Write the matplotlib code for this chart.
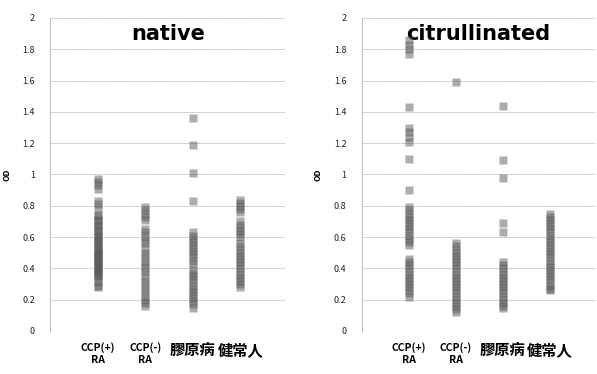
import matplotlib
matplotlib.use("Agg")
import matplotlib.pyplot as plt
from matplotlib.ticker import FuncFormatter

plt.rcParams["font.family"] = ["Noto Sans CJK JP", "DejaVu Sans"]

groups = ["CCP(+)\nRA", "CCP(-)\nRA", "膠原病", "健常人"]
y_ticks = [0, 0.2, 0.4, 0.6, 0.8, 1.0, 1.2, 1.4, 1.6, 1.8, 2.0]

# native antigen, OD per subject
native_ccp_pos = [0.97, 0.95, 0.93, 0.91, 0.83, 0.81, 0.78, 0.74, 0.73, 0.71, 0.70,
                  0.68, 0.67, 0.65, 0.64, 0.62, 0.61, 0.60, 0.58, 0.57, 0.56, 0.55,
                  0.53, 0.52, 0.51, 0.50, 0.49, 0.48, 0.47, 0.46, 0.45, 0.44, 0.43,
                  0.42, 0.41, 0.40, 0.39, 0.38, 0.37, 0.36, 0.35, 0.33, 0.31, 0.29, 0.28]
native_ccp_neg = [0.79, 0.77, 0.75, 0.73, 0.71, 0.65, 0.63, 0.61, 0.58, 0.56, 0.53,
                  0.50, 0.48, 0.45, 0.43, 0.40, 0.38, 0.35, 0.32, 0.30, 0.27, 0.25,
                  0.22, 0.20, 0.18, 0.16]
native_collagen = [1.36, 1.19, 1.01, 0.83, 0.63, 0.61, 0.59, 0.57, 0.55, 0.53, 0.51,
                   0.49, 0.47, 0.45, 0.43, 0.39, 0.37, 0.35, 0.33, 0.31, 0.29, 0.27,
                   0.25, 0.23, 0.21, 0.19, 0.17, 0.15]
native_healthy = [0.84, 0.82, 0.80, 0.78, 0.76, 0.70, 0.68, 0.66, 0.64, 0.62, 0.60,
                  0.56, 0.54, 0.52, 0.50, 0.48, 0.46, 0.44, 0.42, 0.40, 0.38, 0.36,
                  0.34, 0.32, 0.30, 0.28]

# citrullinated antigen, OD per subject
cit_ccp_pos = [1.86, 1.83, 1.80, 1.77, 1.43, 1.30, 1.27, 1.24, 1.21, 1.10, 0.90,
               0.79, 0.77, 0.75, 0.73, 0.71, 0.69, 0.67, 0.65, 0.63, 0.61, 0.59,
               0.57, 0.55, 0.46, 0.44, 0.42, 0.40, 0.38, 0.36, 0.34, 0.32, 0.30,
               0.28, 0.26, 0.24, 0.22]
cit_ccp_neg = [1.59, 0.56, 0.54, 0.52, 0.50, 0.48, 0.46, 0.44, 0.42, 0.40, 0.38,
               0.36, 0.34, 0.32, 0.30, 0.28, 0.26, 0.24, 0.22, 0.20, 0.18, 0.16,
               0.14, 0.12]
cit_collagen = [1.44, 1.09, 0.98, 0.69, 0.63, 0.44, 0.42, 0.40, 0.38, 0.36, 0.34,
                0.32, 0.30, 0.28, 0.26, 0.24, 0.22, 0.20, 0.18, 0.16, 0.15]
cit_healthy = [0.75, 0.73, 0.71, 0.69, 0.67, 0.65, 0.63, 0.61, 0.59, 0.57, 0.55,
               0.53, 0.51, 0.49, 0.47, 0.45, 0.43, 0.41, 0.39, 0.37, 0.35, 0.33,
               0.31, 0.29, 0.27, 0.26]

panels = [
    ("native", [native_ccp_pos, native_ccp_neg, native_collagen, native_healthy]),
    ("citrullinated", [cit_ccp_pos, cit_ccp_neg, cit_collagen, cit_healthy]),
]
axes_rects = [[0.084, 0.115, 0.394, 0.837], [0.606, 0.115, 0.39, 0.837]]


def tick_fmt(v, _):
    return "%g" % round(v, 1)


fig = plt.figure(figsize=(5.97, 3.74), dpi=100)
for (title, series), rect in zip(panels, axes_rects):
    ax = fig.add_axes(rect)
    for i, vals in enumerate(series):
        ax.plot([i + 1] * len(vals), vals, ls="none", marker="s", ms=5.5,
                color="#5a5a5a", alpha=0.5, mec="none", zorder=3)
    ax.set_xlim(0.0, 4.95)
    ax.set_ylim(0, 2)
    ax.set_yticks(y_ticks)
    ax.yaxis.set_major_formatter(FuncFormatter(tick_fmt))
    ax.tick_params(axis="y", length=0, pad=11, labelsize=6.5, labelcolor="#222222")
    ax.set_xticks([1, 2, 3, 4])
    ax.set_xticklabels(groups)
    ax.tick_params(axis="x", length=0, pad=8)
    for j, lab in enumerate(ax.get_xticklabels()):
        lab.set_fontweight("bold")
        lab.set_fontsize(7.5 if j < 2 else 11)
    ax.grid(axis="y", ls=(0, (1, 1)), color="#9a9a9a", lw=0.6)
    ax.set_axisbelow(True)
    for s in ["top", "right", "bottom"]:
        ax.spines[s].set_visible(False)
    ax.spines["left"].set_linestyle((0, (1, 1)))
    ax.spines["left"].set_color("#b0b0b0")
    ax.spines["left"].set_linewidth(0.6)
    ax.set_ylabel("OD", fontsize=6, fontweight="bold", labelpad=8)
    ax.text(0.5, 0.95, title, transform=ax.transAxes, ha="center", va="center",
            fontsize=15, fontweight="bold", family="DejaVu Sans", zorder=2,
            bbox=dict(facecolor="white", edgecolor="none", pad=0.5))

fig.savefig("out.png", dpi=100)
